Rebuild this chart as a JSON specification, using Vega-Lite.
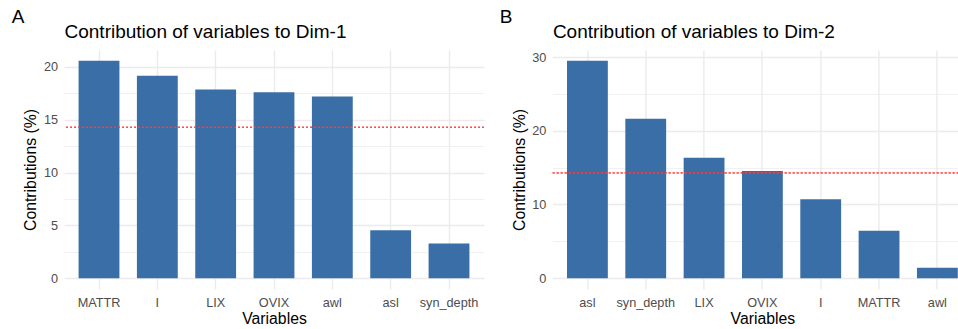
{
  "$schema": "https://vega.github.io/schema/vega-lite/v6.json",
  "padding": {"left": 11, "top": 7, "right": 0, "bottom": 0},
  "background": "white",
  "spacing": 68.4,
  "bounds": "flush",
  "datasets": {
    "dim1": [
      {"variable": "MATTR", "contrib": 20.57},
      {"variable": "I", "contrib": 19.15},
      {"variable": "LIX", "contrib": 17.86},
      {"variable": "OVIX", "contrib": 17.6},
      {"variable": "awl", "contrib": 17.2},
      {"variable": "asl", "contrib": 4.54},
      {"variable": "syn_depth", "contrib": 3.27}
    ],
    "dim2": [
      {"variable": "asl", "contrib": 29.5},
      {"variable": "syn_depth", "contrib": 21.65},
      {"variable": "LIX", "contrib": 16.35},
      {"variable": "OVIX", "contrib": 14.55},
      {"variable": "I", "contrib": 10.7},
      {"variable": "MATTR", "contrib": 6.45},
      {"variable": "awl", "contrib": 1.42}
    ]
  },
  "hconcat": [
    {
      "width": 420,
      "height": 239,
      "title": {"text": "A", "anchor": "start", "frame": "group", "dx": -52.3, "offset": -19, "fontSize": 19, "fontWeight": "normal", "baseline": "alphabetic", "color": "black"},
      "data": {"name": "dim1"},
      "resolve": {"axis": {"y": "independent"}},
      "layer": [
        {
          "mark": {"type": "bar", "color": "#3A6EA6"},
          "encoding": {
            "x": {"field": "variable", "type": "nominal", "sort": null,
                  "scale": {"paddingInner": 0.3, "paddingOuter": 0.25},
                  "axis": {"title": "Variables", "labelAngle": 0, "bandPosition": 0.5, "grid": true, "gridColor": "#EBEBEB", "gridWidth": 1.4, "ticks": false, "tickSize": 0, "domain": false, "labelPadding": 7, "titlePadding": 3}},
            "y": {"field": "contrib", "type": "quantitative",
                  "scale": {"domain": [-1.0285, 21.5985], "nice": false, "zero": false},
                  "axis": {"title": "Contributions (%)", "values": [0, 5, 10, 15, 20], "grid": true, "gridColor": "#EBEBEB", "gridWidth": 1.4, "ticks": false, "tickSize": 0, "domain": false, "labelPadding": 6.5, "titlePadding": 4.5}},
            "y2": {"datum": 0}
          }
        },
        {
          "mark": {"type": "rule", "color": "#FF4040", "strokeDash": [2, 2], "strokeWidth": 0.5, "opacity": 0.8},
          "encoding": {
            "y": {"datum": 14.2857,
                  "scale": {"domain": [-1.0285, 21.5985], "nice": false, "zero": false},
                  "axis": {"orient": "left", "values": [2.5, 7.5, 12.5, 17.5], "labels": false, "ticks": false, "tickSize": 0, "domain": false, "grid": true, "gridColor": "#EBEBEB", "gridWidth": 0.7,
                           "title": "Contribution of variables to Dim-1", "titleAngle": 0, "titleX": 0, "titleY": -12.3, "titleAlign": "left", "titleBaseline": "alphabetic", "titleFontSize": 19}}
          }
        }
      ]
    },
    {
      "width": 406.3,
      "height": 239,
      "title": {"text": "B", "anchor": "start", "frame": "group", "dx": -52.7, "offset": -19, "fontSize": 19, "fontWeight": "normal", "baseline": "alphabetic", "color": "black"},
      "data": {"name": "dim2"},
      "resolve": {"axis": {"y": "independent"}},
      "layer": [
        {
          "mark": {"type": "bar", "color": "#3A6EA6"},
          "encoding": {
            "x": {"field": "variable", "type": "nominal", "sort": null,
                  "scale": {"paddingInner": 0.3, "paddingOuter": 0.133, "align": 0.941},
                  "axis": {"title": "Variables", "labelAngle": 0, "bandPosition": 0.5, "grid": true, "gridColor": "#EBEBEB", "gridWidth": 1.4, "ticks": false, "tickSize": 0, "domain": false, "labelPadding": 7, "titlePadding": 3, "titleX": 210}},
            "y": {"field": "contrib", "type": "quantitative",
                  "scale": {"domain": [-1.475, 30.975], "nice": false, "zero": false},
                  "axis": {"title": "Contributions (%)", "values": [0, 10, 20, 30], "grid": true, "gridColor": "#EBEBEB", "gridWidth": 1.4, "ticks": false, "tickSize": 0, "domain": false, "labelPadding": 6.5, "titlePadding": 4.5}},
            "y2": {"datum": 0}
          }
        },
        {
          "mark": {"type": "rule", "color": "#FF4040", "strokeDash": [2, 2], "strokeWidth": 0.5, "opacity": 0.8},
          "encoding": {
            "y": {"datum": 14.2857,
                  "scale": {"domain": [-1.475, 30.975], "nice": false, "zero": false},
                  "axis": {"orient": "left", "values": [5, 15, 25], "labels": false, "ticks": false, "tickSize": 0, "domain": false, "grid": true, "gridColor": "#EBEBEB", "gridWidth": 0.7,
                           "title": "Contribution of variables to Dim-2", "titleAngle": 0, "titleX": 0, "titleY": -12.3, "titleAlign": "left", "titleBaseline": "alphabetic", "titleFontSize": 19}}
          }
        }
      ]
    }
  ],
  "config": {
    "font": "Liberation Sans",
    "view": {"stroke": null},
    "axis": {
      "labelFont": "Liberation Sans",
      "labelFontSize": 12.7,
      "labelColor": "#4D4D4D",
      "titleFont": "Liberation Sans",
      "titleFontSize": 15.8,
      "titleFontWeight": "normal",
      "titleColor": "#000000"
    },
    "title": {"font": "Liberation Sans"}
  }
}
